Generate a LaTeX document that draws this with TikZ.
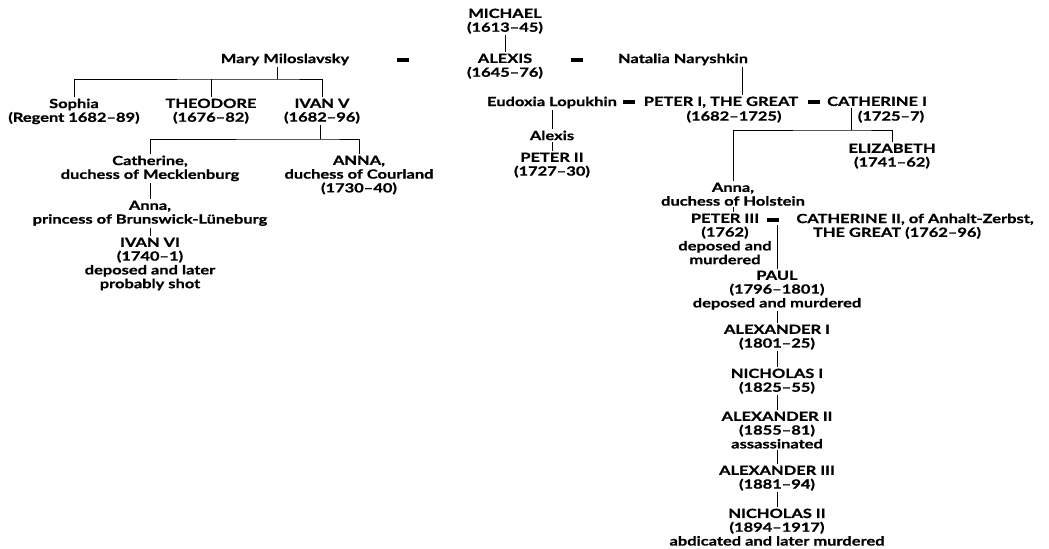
\documentclass[tikz,border=0pt]{standalone}
\usepackage{fontspec}
\setmainfont{Lato}[FakeStretch=1.3, BoldFeatures={FakeBold=0.8}]
\tikzset{
	person/.style={align=center, inner sep=1pt, anchor=north,
		font=\fontsize{9}{9.8}\selectfont\bfseries},
	wedbar/.style={fill, draw=none, inner sep=0pt,
		minimum width=0.32cm, minimum height=0.08cm},
	line/.style={line width=0.6pt}
}
\begin{document}
\begin{tikzpicture}[x=0.025cm,y=-0.025cm]
	\useasboundingbox (0,0) rectangle (1049,548);

	% first generations
	\node[person] (michael) at (505,7) {MICHAEL\\(1613--45)};
	\node[person] (alexis) at (505,52) {ALEXIS\\(1645--76)};
	\node[person] (mary) at (285,52) {Mary Miloslavsky};
	\node[person] (natalia) at (683,52) {Natalia Naryshkin};

	\node[wedbar] (w1) at (403,60) {};
	\node[wedbar] (w2) at (577,60) {};

	% Miloslavsky line
	\node[person] (sophia) at (74,97) {Sophia\\(Regent 1682--89)};
	\node[person] (theodore) at (211,97) {THEODORE\\(1676--82)};
	\node[person] (ivanv) at (322,97) {IVAN V\\(1682--96)};
	\node[person] (catherineM) at (150,154) {Catherine,\\duchess of Mecklenburg};
	\node[person] (annaC) at (359,154) {ANNA,\\duchess of Courland\\(1730--40)};
	\node[person] (annaB) at (150,199) {Anna,\\princess of Brunswick-Lüneburg};
	\node[person] (ivanvi) at (150,236) {IVAN VI\\(1740--1)\\deposed and later\\probably shot};

	% Naryshkin line
	\node[person] (eudoxia) at (552,95) {Eudoxia Lopukhin};
	\node[person] (peterI) at (721,95) {PETER I, THE GREAT};
	\node[person] (peterIdate) at (734,109) {(1682--1725)};
	\node[person] (catherineI) at (877,95) {CATHERINE I};
	\node[person] (catherineIdate) at (891,109) {(1725--7)};

	\node[wedbar] (w3) at (629,102) {};
	\node[wedbar] (w4) at (814,102) {};

	\node[person] (alexisson) at (552,129) {Alexis};
	\node[person] (peterII) at (552,151) {PETER II\\(1727--30)};
	\node[person] (elizabeth) at (892,142) {ELIZABETH\\(1741--62)};
	\node[person] (annaH) at (733,181) {Anna,\\duchess of Holstein};

	\node[person] (peterIII) at (725,212) {PETER III\\(1762)\\deposed and\\murdered};
	\node[person] (catherineII) at (915,212) {CATHERINE II, of Anhalt-Zerbst,\\THE GREAT (1762--96)\hspace*{0.9cm}};
	\node[wedbar] (w5) at (773,220) {};

	\node[person] (paul) at (777,269) {PAUL\\(1796--1801)\\deposed and murdered};
	\node[person] (alexI) at (777,323) {ALEXANDER I\\(1801--25)};
	\node[person] (nichI) at (777,367) {NICHOLAS I\\(1825--55)};
	\node[person] (alexII) at (777,410) {ALEXANDER II\\(1855--81)\\assassinated};
	\node[person] (alexIII) at (777,464) {ALEXANDER III\\(1881--94)};
	\node[person] (nichII) at (777,507) {NICHOLAS II\\(1894--1917)\\abdicated and later murdered};

	% junctions
	\coordinate (jm) at (277,79);
	\coordinate (ji) at (320,139);
	\coordinate (jn) at (742,0);
	\coordinate (jp) at (851,130);

	\begin{scope}[line]
	\draw (michael.south) -- (alexis.north);

	\draw (jm |- mary.south) -- (jm);
	\draw (sophia.north) |- (jm) -| (ivanv.north);
	\draw (theodore.north) -- (theodore.north |- jm);

	\draw (ji |- ivanv.south) -- (ji);
	\draw (catherineM.north) |- (ji) -| (annaC.north);
	\draw (catherineM.south) -- (annaB.north);
	\draw (annaB.south) -- (ivanvi.north);

	\draw (natalia.south -| jn) -- (peterI.north -| jn);
	\draw (eudoxia.south) -- (alexisson.north);
	\draw (alexisson.south) -- (peterII.north);

	\draw (jp |- catherineI.south) -- (jp);
	\draw (annaH.north) |- (jp) -| (elizabeth.north);
	\draw (annaH.south) -- (annaH.south |- peterIII.north);

	\draw[shorten >=2pt] (paul.north) -- (paul.north |- w5.south);
	\foreach \a / \b in {
	paul/alexI,
	alexI/nichI,
	nichI/alexII,
	alexII/alexIII,
	alexIII/nichII}
	{
		\draw (\a.south) -- (\b.north);
	};
	\end{scope}
\end{tikzpicture}
\end{document}
